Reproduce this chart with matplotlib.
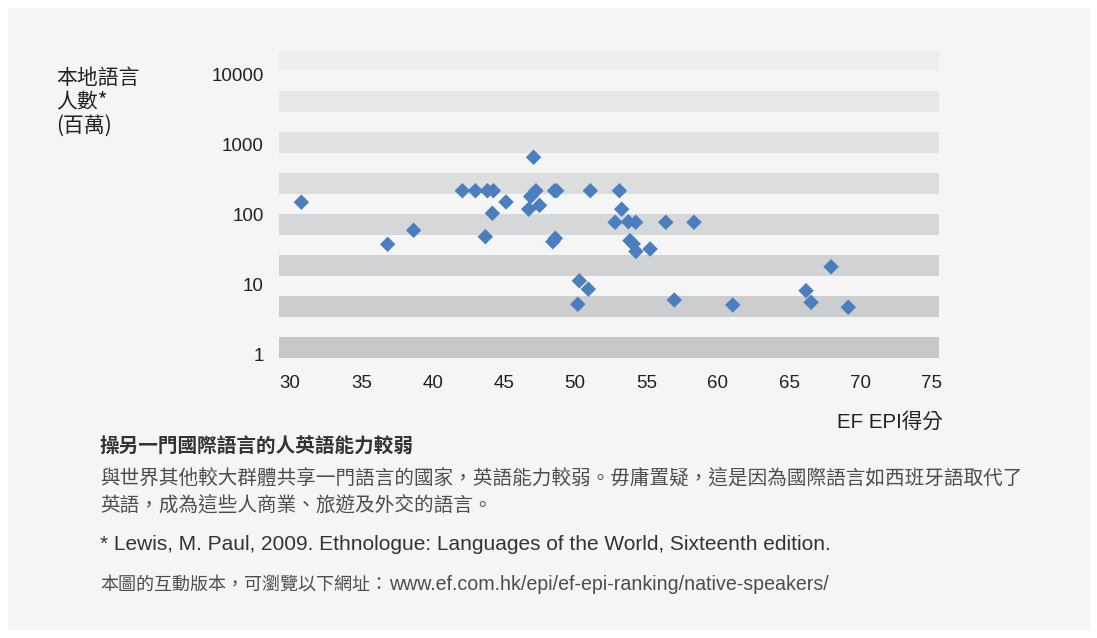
import matplotlib.pyplot as plt
from matplotlib.patches import Rectangle

# EF EPI score vs. native speakers (millions), one point per country
epi_score = [
    30.8, 36.85, 38.67, 42.09, 43.0, 43.84, 44.26, 45.15, 44.19, 43.7,
    46.74, 46.88, 47.25, 47.5, 47.08, 48.55, 48.7, 48.43, 48.61, 51.06,
    53.1, 53.26, 52.8, 53.73, 54.24, 56.35, 58.33, 53.84, 54.07, 54.26,
    55.25, 50.29, 50.92, 50.18, 56.95, 61.05, 67.94, 66.19, 66.54, 69.15,
]
native_speakers = [
    150, 37.4, 59.3, 219, 219, 219, 219, 151, 104, 48,
    119, 181, 219, 135, 661, 219, 219, 40.7, 45.6, 219,
    219, 119, 77.3, 78.5, 77.3, 77.3, 77.3, 42.1, 37.8, 29.5,
    32, 11.2, 8.5, 5.16, 5.95, 5.04, 17.8, 8.08, 5.51, 4.68,
]

x_ticks = [30, 35, 40, 45, 50, 55, 60, 65, 70, 75]
y_ticks = [1, 10, 100, 1000, 10000]
y_tick_labels = ["1", "10", "100", "1000", "10000"]

band_colors = ["#eeeeee", "#e6e7e8", "#e1e2e3", "#dcdddd",
               "#d6d7d8", "#d1d2d3", "#cccdce", "#c6c7c8"]

LATIN = ["Liberation Sans", "Noto Sans CJK TC"]
CJK = ["Noto Sans CJK TC", "Liberation Sans"]

W, H = 1097, 638
fig = plt.figure(figsize=(W / 100, H / 100), dpi=100, facecolor="white")

# light grey panel behind everything
fig.patches.append(Rectangle((8 / W, 8 / H), (1090 - 8) / W, (630 - 8) / H,
                             transform=fig.transFigure, facecolor="#f5f5f5",
                             edgecolor="none", zorder=-10))

left, right, top, bottom = 279, 939, 50, 358
ax = fig.add_axes([left / W, 1 - bottom / H, (right - left) / W, (bottom - top) / H])
ax.set_facecolor("none")
ax.set_zorder(1)

# horizontal stripes, darkening towards the bottom
for i, c in enumerate(band_colors):
    y0 = 1 - (2 * i + 1) / 15
    ax.add_patch(Rectangle((0, y0), 1, 1 / 15, transform=ax.transAxes,
                           facecolor=c, edgecolor="none", zorder=0))

ax.scatter(epi_score, native_speakers, marker="D", s=62, color="#4a7ebf",
           edgecolors="none", zorder=3)

ax.set_yscale("log")
ax.set_xlim(29.23, 75.51)
ax.set_ylim(10 ** -0.0573, 10 ** 4.358)
ax.set_xticks(x_ticks)
ax.set_xticklabels([str(t) for t in x_ticks], family=LATIN, fontsize=13.5, color="#222222")
ax.set_yticks(y_ticks)
ax.set_yticklabels(y_tick_labels, family=LATIN, fontsize=13.5, color="#222222")
ax.minorticks_off()
ax.tick_params(axis="both", length=0)
ax.tick_params(axis="y", pad=11)
ax.tick_params(axis="x", pad=12.5)
for s in ax.spines.values():
    s.set_visible(False)

fig.text(56 / W, 1 - 67 / H, "本地語言\n人數*\n(百萬)", family=CJK, fontsize=15,
         color="#222222", ha="left", va="top", linespacing=1.12)
fig.text(943 / W, 1 - 422 / H, "EF EPI得分", family=LATIN, fontsize=14.8,
         color="#222222", ha="right", va="center")

fig.text(100 / W, 1 - 447 / H, "操另一門國際語言的人英語能力較弱", family=CJK,
         fontsize=14.1, fontweight="bold", color="#333333", ha="left", va="center")
fig.text(100 / W, 1 - 478 / H,
         "與世界其他較大群體共享一門語言的國家，英語能力較弱。毋庸置疑，這是因為國際語言如西班牙語取代了",
         family=CJK, fontsize=14.1, color="#4d4d4d", ha="left", va="center")
fig.text(100 / W, 1 - 505 / H, "英語，成為這些人商業、旅遊及外交的語言。",
         family=CJK, fontsize=14.1, color="#4d4d4d", ha="left", va="center")
fig.text(100 / W, 1 - 544 / H,
         "* Lewis, M. Paul, 2009. Ethnologue: Languages of the World, Sixteenth edition.",
         family=LATIN, fontsize=15, color="#333333", ha="left", va="center")
fig.text(100 / W, 1 - 585 / H, "本圖的互動版本，可瀏覽以下網址：",
         family=CJK, fontsize=13, color="#4d4d4d", ha="left", va="center")
fig.text(389 / W, 1 - 585 / H, "www.ef.com.hk/epi/ef-epi-ranking/native-speakers/",
         family=LATIN, fontsize=14.1, color="#4d4d4d", ha="left", va="center")

fig.savefig("out.png", dpi=100, facecolor="white")
